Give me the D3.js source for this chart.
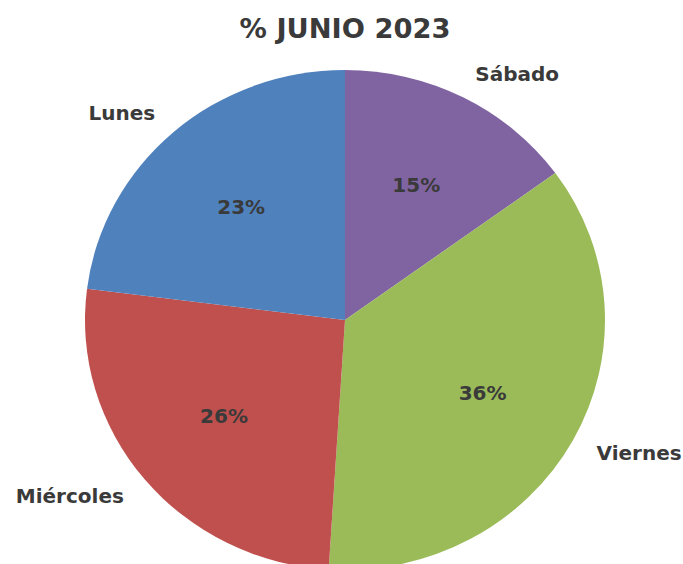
<!DOCTYPE html>
<html><head><meta charset="utf-8">
<script src="https://cdn.jsdelivr.net/npm/d3@7"></script>
<style>body{margin:0;background:#fff}svg{display:block}</style>
</head><body>
<script>
const categories = ["Sábado", "Viernes", "Miércoles", "Lunes"];
const values = [15, 36, 26, 23];
const colors = ["#8064A2", "#9BBB59", "#C0504D", "#4F81BD"];
const title = "% JUNIO 2023";

const W = 683, H = 564;
const cx = 345, cy = 320, R = 260, ky = 250 / 260;
const svg = d3.select("body").append("svg").attr("width", W).attr("height", H);
const font = "'DejaVu Sans', sans-serif";

svg.append("text").attr("x", 345).attr("y", 38).attr("text-anchor", "middle")
  .attr("font-family", font).attr("font-weight", "bold").attr("font-size", 27.3)
  .attr("fill", "#3a3a3a").text(title);

const data = categories.map((c, i) => ({cat: c, v: values[i], color: colors[i]}));
const pie = d3.pie().value(d => d.v).sort(null);
const arcs = pie(data);
const arc = d3.arc().innerRadius(0).outerRadius(R);

const g = svg.append("g").attr("transform", `translate(${cx},${cy}) scale(1,${ky})`);
g.selectAll("path").data(arcs).join("path").attr("d", arc).attr("fill", d => d.data.color);

const inArc = d3.arc().innerRadius(157).outerRadius(157);
svg.selectAll("text.pct").data(arcs).join("text").attr("class", "pct")
  .attr("x", d => cx + inArc.centroid(d)[0])
  .attr("y", d => cy + inArc.centroid(d)[1] * ky)
  .attr("text-anchor", "middle").attr("dominant-baseline", "central")
  .attr("font-family", font).attr("font-weight", "bold").attr("font-size", 20)
  .attr("fill", "#3a3a3a").text(d => d.data.v + "%");

const outArc = d3.arc().innerRadius(287).outerRadius(287);
svg.selectAll("text.cat").data(arcs).join("text").attr("class", "cat")
  .attr("x", d => cx + outArc.centroid(d)[0])
  .attr("y", d => cy + outArc.centroid(d)[1] * ky)
  .attr("text-anchor", d => ((d.startAngle + d.endAngle) / 2 < Math.PI ? "start" : "end"))
  .attr("dominant-baseline", "central")
  .attr("font-family", font).attr("font-weight", "bold").attr("font-size", 20)
  .attr("fill", "#3a3a3a").text(d => d.data.cat);
</script>
</body></html>
